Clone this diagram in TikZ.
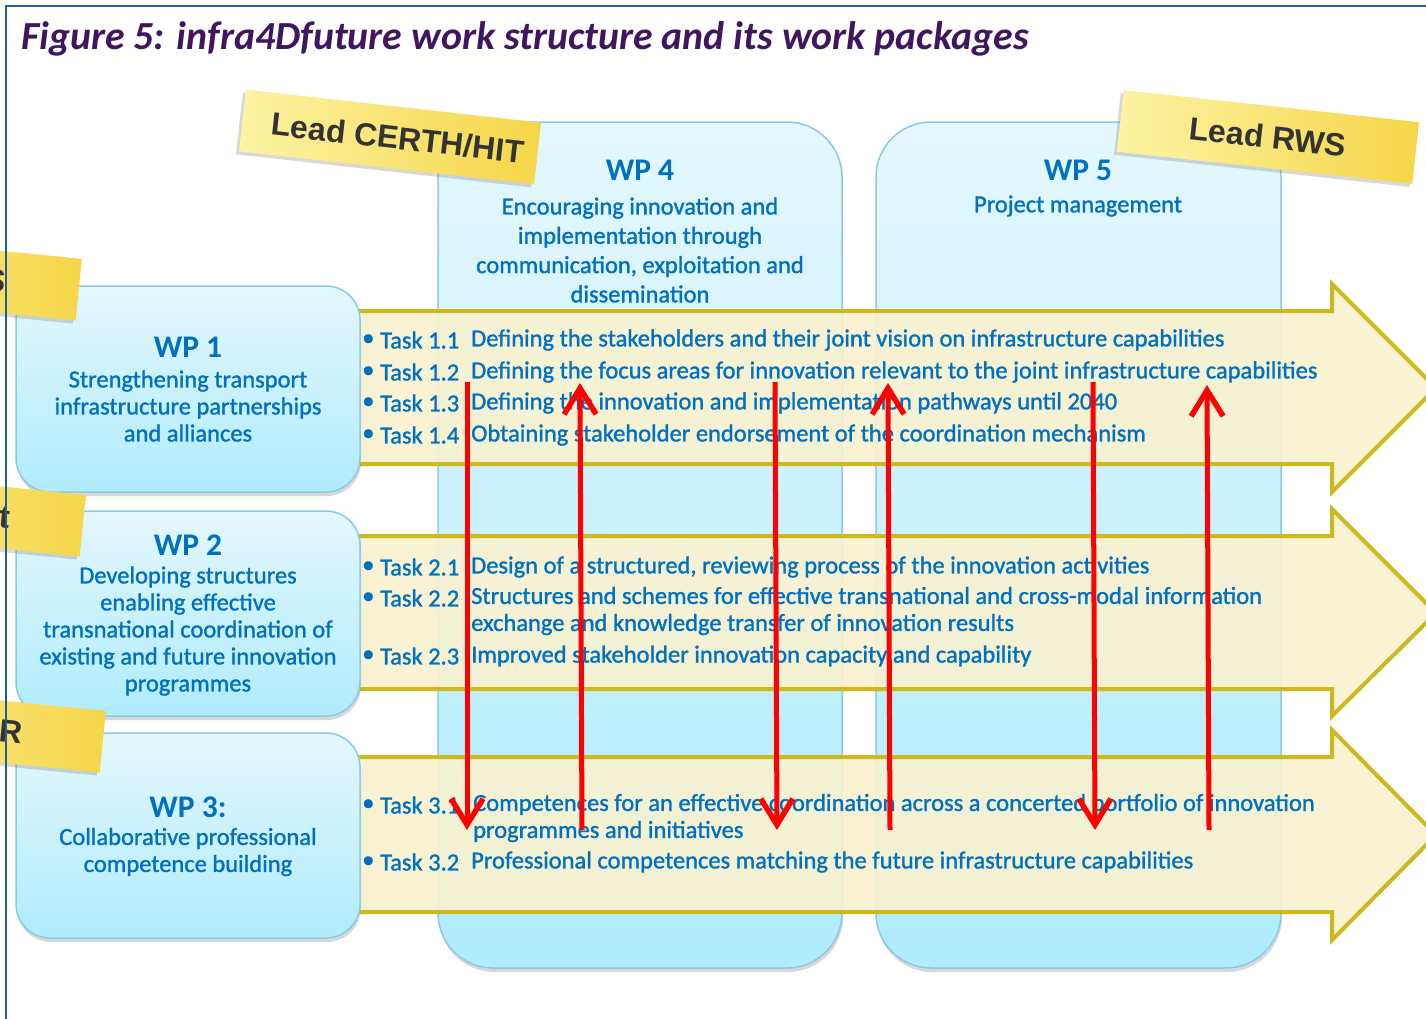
\documentclass[tikz,border=0pt]{standalone}
\usepackage{fontspec}
\setmainfont{Carlito}
\newfontfamily\bodyfont{Carlito}[RawFeature={embolden=1.2}]
\newfontfamily\notefont{Liberation Sans}
\usetikzlibrary{arrows.meta,shadows}
\definecolor{txtblue}{RGB}{0,112,192}
\definecolor{titlepurple}{RGB}{64,22,96}
\definecolor{frameblue}{RGB}{30,95,155}
\definecolor{boxtop}{RGB}{228,247,253}
\definecolor{boxbot}{RGB}{176,236,252}
\definecolor{boxedge}{RGB}{140,200,232}
\definecolor{arrowfill}{RGB}{249,242,208}
\definecolor{arrowedge}{RGB}{205,185,30}
\definecolor{notelight}{RGB}{253,243,165}
\definecolor{notedark}{RGB}{245,214,72}
\definecolor{notetext}{RGB}{51,51,51}
\begin{document}
\begin{tikzpicture}[x=1pt,y=-1pt,
  colbox/.style={rounded corners=55pt, top color=boxtop, bottom color=boxbot, draw=boxedge, line width=1.5pt,
    drop shadow={shadow xshift=1pt, shadow yshift=-4pt, opacity=0.3}},
  wpbox/.style={rounded corners=34pt, top color=boxtop, bottom color=boxbot, draw=boxedge, line width=1.5pt,
    drop shadow={shadow xshift=1pt, shadow yshift=-4pt, opacity=0.3}},
  bigarrow/.style={fill=arrowfill, fill opacity=0.9, draw=arrowedge, line width=4pt, line join=miter},
  stickynote/.style={left color=notelight, right color=notedark, minimum width=297pt, minimum height=62pt,
    inner sep=0pt, text=notetext, font=\notefont\bfseries\fontsize{32}{36}\selectfont,
    drop shadow={shadow xshift=-3pt, shadow yshift=-3pt, opacity=0.3}},
  notechar/.style={inner sep=0pt, text=notetext, font=\notefont\bfseries\fontsize{32}{36}\selectfont},
  head/.style={inner sep=0pt, text=txtblue, font=\bfseries\fontsize{31.5}{34}\selectfont},
  body/.style={inner sep=0pt, text=txtblue, align=center, font=\bodyfont\fontsize{24.5}{27}\selectfont},
  colbody/.style={inner sep=0pt, text=txtblue, align=center, font=\bodyfont\fontsize{24.5}{29.3}\selectfont},
  tasklbl/.style={inner sep=0pt, anchor=west, text=txtblue, font=\bodyfont\fontsize{24.5}{27}\selectfont},
  taskdesc/.style={inner sep=0pt, anchor=west, text=txtblue, align=left, font=\bodyfont\fontsize{24.5}{27}\selectfont},
  redarrow/.style={draw=red, line width=5pt, -{Straight Barb[length=26pt,width=32pt,line width=0pt 1.1]}}
]
\useasboundingbox (0,0) rectangle (1426,1018);
\clip (0,0) rectangle (1426,1018);
\fill[white] (0,0) rectangle (1426,1018);

% columns WP4, WP5
\path[colbox] (438,122) rectangle (842,968);
\path[colbox] (876,122) rectangle (1281,968);

% sticky notes at the top
\node[stickynote, rotate=-6.4] (leadA) at (390,137) {\hspace*{16pt}Lead CERTH/HIT};
\node[stickynote, rotate=-6.2] (leadB) at (1268,137) {Lead RWS};

% column texts
\node[head] (wp4h) at (640,170) {WP 4};
\node[colbody] (wp4b) at (640,250) {Encouraging innovation and\\implementation through\\communication, exploitation and\\dissemination};
\node[head] (wp5h) at (1078,170) {WP 5};
\node[colbody] (wp5b) at (1078,206) {Project management};

% yellow arrows
\draw[bigarrow] (340,311) -- (1332,311) -- (1332,284) -- (1436,388) -- (1332,492) -- (1332,464) -- (340,464) -- cycle;
\draw[bigarrow] (340,536) -- (1332,536) -- (1332,509) -- (1436,613) -- (1332,716) -- (1332,689) -- (340,689) -- cycle;
\draw[bigarrow] (340,757) -- (1332,757) -- (1332,730) -- (1436,835) -- (1332,940) -- (1332,912) -- (340,912) -- cycle;

% WP boxes left
\path[wpbox] (16,286) rectangle (360,492);
\path[wpbox] (16,511) rectangle (360,716);
\path[wpbox] (16,733) rectangle (360,938);

% left sticky notes (cut by the page edge)
\node[stickynote, rotate=-5.7] (noteA) at (-69,275) {};
\node[stickynote, rotate=-5.7] (noteB) at (-65,511) {};
\node[stickynote, rotate=-5.7] (noteC) at (-45,727) {};
\node[notechar, rotate=-5.7, anchor=east] (charA) at (6,282) {S};
\node[notechar, rotate=-5.7, anchor=east] (charB) at (10,518) {t};
\node[notechar, rotate=-5.7, anchor=east] (charC) at (23,733) {R};

% WP box texts
\node[head] (wp1h) at (188,347) {WP 1};
\node[body] (wp1b) at (188,406) {Strengthening transport\\infrastructure partnerships\\and alliances};
\node[head] (wp2h) at (188,545) {WP 2};
\node[body] (wp2b) at (188,631) {Developing structures\\enabling effective\\transnational coordination of\\existing and future innovation\\programmes};
\node[head] (wp3h) at (188,807) {WP 3:};
\node[body] (wp3b) at (188,852) {Collaborative professional\\competence building};

% tasks
\foreach \y/\nm in {340/b11,372/b12,403/b13,435/b14,567/b21,598/b22,656/b23,805/b31,862/b32}
  \node[tasklbl] (\nm) at (362,\y) {\textbullet};
\node[tasklbl] (l11) at (380,340) {Task 1.1};
\node[tasklbl] (l12) at (380,372) {Task 1.2};
\node[tasklbl] (l13) at (380,403) {Task 1.3};
\node[tasklbl] (l14) at (380,435) {Task 1.4};
\node[tasklbl] (l21) at (380,567) {Task 2.1};
\node[tasklbl] (l22) at (380,598) {Task 2.2};
\node[tasklbl] (l23) at (380,656) {Task 2.3};
\node[tasklbl] (l31) at (380,805) {Task 3.1};
\node[tasklbl] (l32) at (380,862) {Task 3.2};
\node[taskdesc] (d11) at (471,340) {Defining the stakeholders and their joint vision on infrastructure capabilities};
\node[taskdesc] (d12) at (471,372) {Defining the focus areas for innovation relevant to the joint infrastructure capabilities};
\node[taskdesc] (d13) at (471,403) {Defining the innovation and implementation pathways until 2040};
\node[taskdesc] (d14) at (471,435) {Obtaining stakeholder endorsement of the coordination mechanism};
\node[taskdesc] (d21) at (471,567) {Design of a structured, reviewing process of the innovation activities};
\node[taskdesc] (d22) at (471,611) {Structures and schemes for effective transnational and cross-modal information\\exchange and knowledge transfer of innovation results};
\node[taskdesc] (d23) at (471,656) {Improved stakeholder innovation capacity and capability};
\node[taskdesc] (d31) at (473,818) {Competences for an effective coordination across a concerted portfolio of innovation\\programmes and initiatives};
\node[taskdesc] (d32) at (471,862) {Professional competences matching the future infrastructure capabilities};

% red arrows
\coordinate (r1t) at (467,382); \coordinate (r1b) at (467,830);
\coordinate (r2t) at (580,383); \coordinate (r2b) at (582,830);
\coordinate (r3t) at (775,382); \coordinate (r3b) at (777,830);
\coordinate (r4t) at (888,383); \coordinate (r4b) at (890,830);
\coordinate (r5t) at (1093,382); \coordinate (r5b) at (1095,830);
\coordinate (r6t) at (1207,385); \coordinate (r6b) at (1209,830);
\draw[redarrow] (r1t) -- (r1b);
\draw[redarrow] (r2b) -- (r2t);
\draw[redarrow] (r3t) -- (r3b);
\draw[redarrow] (r4b) -- (r4t);
\draw[redarrow] (r5t) -- (r5b);
\draw[redarrow] (r6b) -- (r6t);

% title
\node[anchor=west, inner sep=0pt, text=titlepurple, font=\bfseries\itshape\fontsize{39.8}{44}\selectfont] (title) at (21,39)
  {Figure 5: infra4Dfuture work structure and its work packages};

% frame
\draw[frameblue, line width=2.5pt] (6,1020) -- (6,6) -- (1430,6);
\end{tikzpicture}
\end{document}
